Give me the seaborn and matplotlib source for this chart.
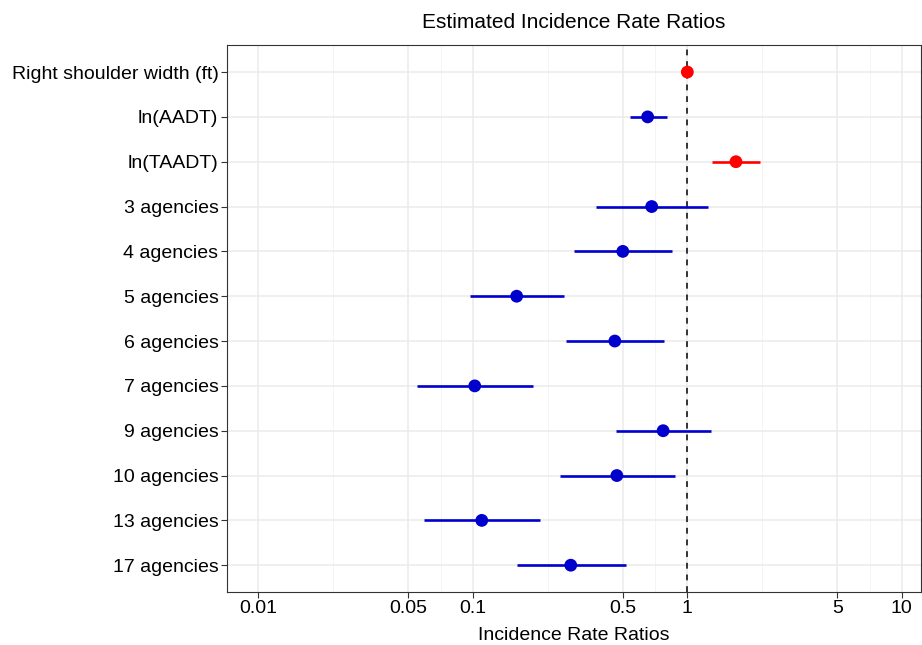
import pandas as pd
import matplotlib
matplotlib.use("Agg")
import matplotlib.pyplot as plt
from matplotlib.ticker import FixedLocator, NullFormatter
import seaborn as sns

terms = ['Right shoulder width (ft)', 'ln(AADT)', 'ln(TAADT)', '3 agencies',
         '4 agencies', '5 agencies', '6 agencies', '7 agencies', '9 agencies',
         '10 agencies', '13 agencies', '17 agencies']
irr = [1.0, 0.653, 1.685, 0.682, 0.500, 0.160, 0.459, 0.102, 0.771, 0.469, 0.110, 0.286]
ci_low = [0.99, 0.541, 1.297, 0.375, 0.295, 0.097, 0.271, 0.055, 0.463, 0.254, 0.059, 0.160]
ci_high = [1.01, 0.801, 2.185, 1.248, 0.849, 0.266, 0.779, 0.191, 1.289, 0.877, 0.205, 0.519]
x_breaks = [0.01, 0.05, 0.1, 0.5, 1, 5, 10]
x_labels = ['0.01', '0.05', '0.1', '0.5', '1', '5', '10']

df = pd.DataFrame({'term': terms, 'irr': irr, 'low': ci_low, 'high': ci_high})
df['row'] = range(len(df))
df['group'] = ['pos' if v >= 1 else 'neg' for v in df['irr']]
pal = {'pos': '#FF0000', 'neg': '#0000CD'}

sns.set_theme(style="white")
plt.rcParams['font.family'] = ['Liberation Sans Narrow', 'Liberation Sans', 'DejaVu Sans']
plt.rcParams['text.color'] = 'black'
plt.rcParams['axes.labelcolor'] = 'black'

fig, ax = plt.subplots(figsize=(9.22, 6.45), dpi=100)
fig.subplots_adjust(left=0.246, right=0.999, top=0.930, bottom=0.082)

ax.set_xscale('log')
# minor grid lines sit halfway between breaks (in log space), like ggplot
minor = [(a * b) ** 0.5 for a, b in zip(x_breaks[:-1], x_breaks[1:])]
ax.xaxis.set_major_locator(FixedLocator(x_breaks))
ax.xaxis.set_minor_locator(FixedLocator(minor))
ax.xaxis.set_minor_formatter(NullFormatter())
ax.set_xticklabels(x_labels)

ax.grid(True, which='major', color='#EBEBEB', lw=1.1)
ax.grid(True, which='minor', axis='x', color='#F4F4F4', lw=0.7)
ax.set_axisbelow(True)

ax.axvline(1, color='#333333', lw=1.4, ls=(0, (3, 3)), zorder=1)

for g, sub in df.groupby('group'):
    ax.hlines(sub['row'], sub['low'], sub['high'], color=pal[g], lw=1.9, zorder=2)
sns.scatterplot(data=df, x='irr', y='row', hue='group', palette=pal, s=85,
                edgecolor='none', legend=False, ax=ax, zorder=3)

ax.set_yticks(df['row'])
ax.set_yticklabels(terms)
ax.set_ylim(len(terms) - 0.4, -0.6)
ax.set_xlim(0.00712, 12.3)

ax.tick_params(axis='both', which='major', length=4, width=0.8, color='#333333',
               labelsize=14, labelcolor='black', pad=2, bottom=True, left=True)
ax.tick_params(axis='x', which='minor', length=0)
for s in ax.spines.values():
    s.set_color('#333333')
    s.set_linewidth(0.8)

ax.set_ylabel('')
ax.set_xlabel('Incidence Rate Ratios', fontsize=14, labelpad=7, color='black')
ax.set_title('Estimated Incidence Rate Ratios', fontsize=15, pad=12, color='black')

fig.savefig('out.png', dpi=100)
